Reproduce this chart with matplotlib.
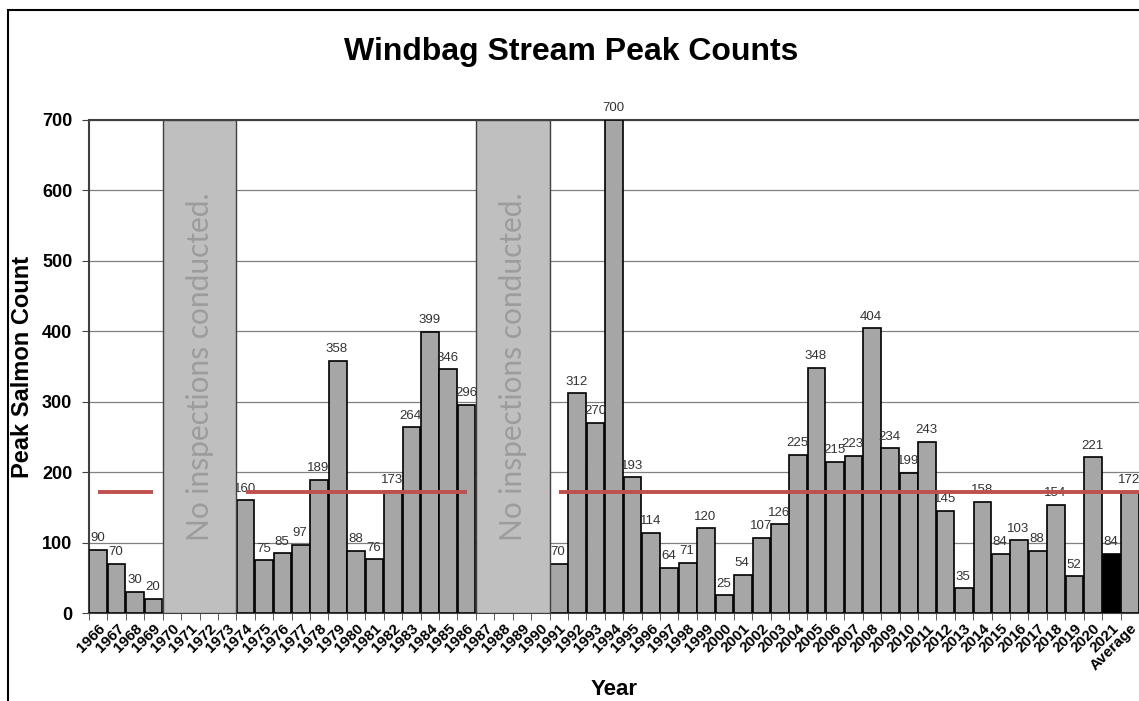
import matplotlib
matplotlib.use("Agg")
import matplotlib.pyplot as plt
import numpy as np
from matplotlib.patches import Rectangle

plt.rcParams['font.family'] = ['Liberation Sans', 'DejaVu Sans']

years = [str(y) for y in range(1966, 2022)] + ["Average"]
counts = [90, 70, 30, 20, None, None, None, None,
          160, 75, 85, 97, 189, 358, 88, 76, 173, 264, 399, 346, 296,
          None, None, None, None,
          70, 312, 270, 700, 193, 114, 64, 71, 120, 25, 54, 107, 126, 225,
          348, 215, 223, 404, 234, 199, 243, 145, 35, 158, 84, 103, 88, 154,
          52, 221, 84, 172]
average = 172
gaps = [("1970", "1973"), ("1987", "1990")]
highlight = "2021"
gap_text = "No inspections conducted."


def main():
    fig = plt.figure(figsize=(11.39, 7.01), dpi=100)
    W, H = 1139, 701
    ax = fig.add_axes([89 / W, (H - 613) / H, (1139 - 89) / W, (613 - 120) / H])

    x = np.arange(len(years))
    vals = np.array([np.nan if c is None else c for c in counts], dtype=float)
    colors = ['black' if y == highlight else '#a6a6a6' for y in years]
    ok = ~np.isnan(vals)

    ax.bar(x[ok], vals[ok], width=0.96, color=np.array(colors)[ok],
           edgecolor='black', linewidth=1.2, zorder=3)

    for xi, v in zip(x[ok], vals[ok]):
        ax.annotate(f"{int(v)}", (xi, min(v, 700)), xytext=(-0.5, 4),
                    textcoords='offset points', ha='center', va='bottom',
                    fontsize=9.5, color='#333333', zorder=4, annotation_clip=False)

    # average line, broken at the gaps
    runs = []
    start = None
    for i, good in enumerate(ok):
        if good and start is None:
            start = i
        if not good and start is not None:
            runs.append((start, i - 1))
            start = None
    if start is not None:
        runs.append((start, len(years) - 0.5))
    for a, b in runs:
        ax.plot([a, b], [average, average], color='#c0504d', linewidth=2.8,
                solid_capstyle='butt', zorder=5)

    # grey boxes for years with no inspections
    for g0, g1 in gaps:
        i0 = years.index(g0) - 0.5
        i1 = years.index(g1) + 0.5
        ax.add_patch(Rectangle((i0, 0), i1 - i0, 700, facecolor='#bfbfbf',
                               edgecolor='#404040', linewidth=1.0, zorder=6))
        ax.text((i0 + i1) / 2, 350, gap_text, rotation=90, ha='center',
                va='center', fontsize=21.5, color='#9c9c9c', family='Lato',
                zorder=7)

    ax.set_xlim(-0.5, len(years) - 0.5)
    ax.set_ylim(0, 700)
    ax.set_yticks(range(0, 701, 100))
    ax.set_yticklabels([str(v) for v in range(0, 701, 100)],
                       fontsize=13, fontweight='bold')
    ax.set_xticks(x)
    ax.set_xticklabels(years, rotation=45, ha='right', rotation_mode='anchor',
                       fontsize=11, fontweight='bold')
    ax.set_xticks(np.arange(-0.5, len(years), 1), minor=True)
    ax.tick_params(axis='x', which='major', length=0, pad=6)
    ax.tick_params(axis='x', which='minor', length=5, color='#404040')
    ax.tick_params(axis='y', length=5, color='#404040', pad=7)
    ax.yaxis.grid(True, color='#808080', linewidth=0.9, zorder=0)
    ax.set_axisbelow(True)

    for s in ['left', 'bottom', 'top']:
        ax.spines[s].set_color('#404040')
        ax.spines[s].set_linewidth(1.5)
    ax.spines['right'].set_color('#c0c0c0')

    ax.set_ylabel("Peak Salmon Count", fontsize=17, fontweight='bold')
    ax.yaxis.set_label_coords((34 - 89) / 1050, 0.5)
    ax.set_xlabel("Year", fontsize=16, fontweight='bold', labelpad=4)
    fig.text(571 / W, 1 - 52 / H, "Windbag Stream Peak Counts", ha='center',
             va='center', fontsize=23, fontweight='bold')

    # outer chart frame
    fig.add_artist(Rectangle((8 / W, -0.1), 1.2, 1 - 10 / H + 0.1,
                             transform=fig.transFigure, fill=False,
                             edgecolor='black', linewidth=1.5))

    fig.savefig("out.png", dpi=100)


if __name__ == "__main__":
    main()
